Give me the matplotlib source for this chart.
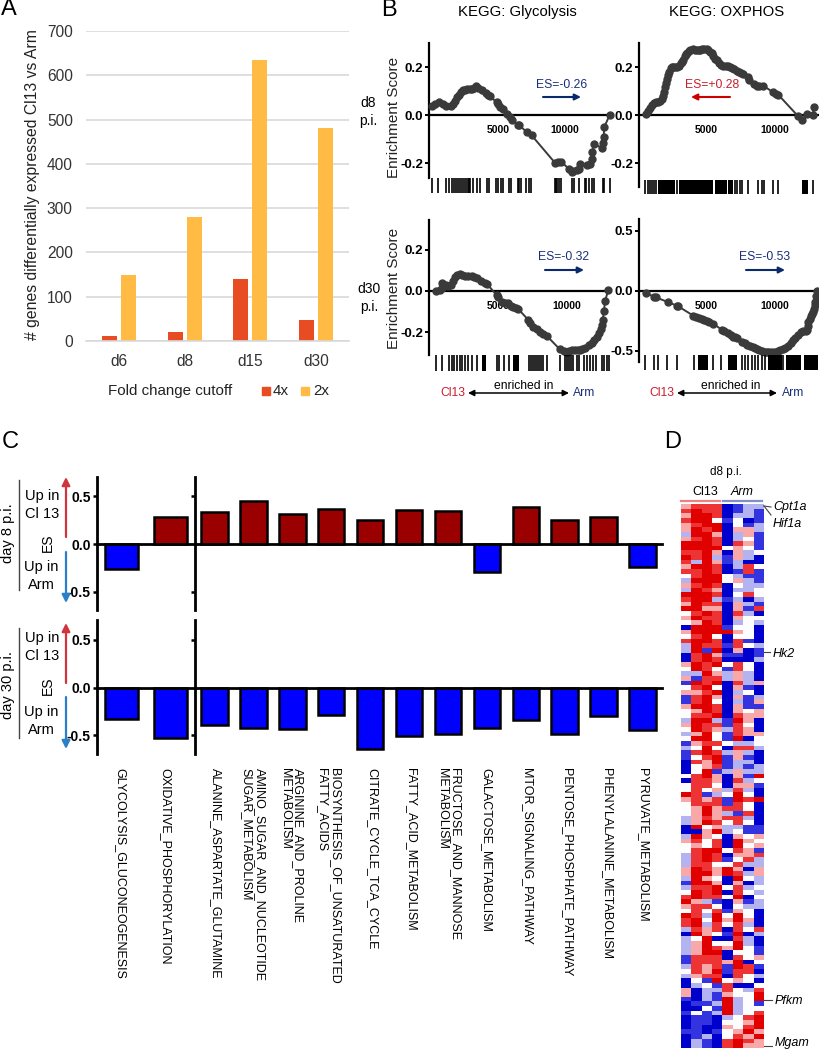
import numpy as np
import matplotlib
matplotlib.use('Agg')
import matplotlib.pyplot as plt
from matplotlib.colors import LinearSegmentedColormap

plt.rcParams['font.family'] = ['Liberation Sans', 'DejaVu Sans']

# panel A
days = ['d6', 'd8', 'd15', 'd30']
genes_4x = [12, 20, 141, 47]
genes_2x = [149, 280, 635, 481]

# panel B, running enrichment score
gly_d8_x = [75, 300, 575, 850, 1125, 1500, 1650, 1800, 1925, 2050, 2200, 2375, 2550, 2700, 2875, 3050, 3200, 3325, 3500, 3750,
            4100, 4250, 4400, 4875, 5000, 5150, 5375, 5650, 5875, 6000, 6450, 6575, 7125, 7500, 9250, 9450, 9675, 10300, 10500, 10600,
            10900, 11050, 11125, 11600, 11875, 12000, 12025, 12125, 12750, 12800, 12875, 12925, 13325]
gly_d8_y = [.039, .047, .053, .045, .039, .039, .045, .06, .075, .085, .095, .103, .105, .107, .108, .11, .114, .119, .113, .106,
            .09, .083, .078, .053, .045, .035, .026, .005, -.008, -.02, -.042, -.043, -.071, -.085, -.2, -.197, -.194, -.225, -.239, -.232,
            -.228, -.224, -.203, -.21, -.203, -.185, -.154, -.122, -.136, -.115, -.092, -.05, 0]
ox_d8_x = [490, 650, 810, 950, 1100, 1250, 1400, 1550, 1700, 1800, 1880, 1950, 2020, 2090, 2160, 2240, 2350, 2450, 2535, 2650,
           2800, 2980, 3100, 3200, 3275, 3400, 3500, 3570, 3700, 3800, 3965, 4100, 4250, 4400, 4510, 4650, 4800, 5000, 5120, 5250,
           5370, 5480, 5600, 5740, 5900, 6050, 6230, 6400, 6550, 6725, 6850, 7000, 7220, 7400, 7550, 7710, 8060, 8100, 8500, 8695,
           8900, 9185, 9925, 10100, 10295, 11770, 12020, 12390, 12830, 12930]
ox_d8_y = [.006, .017, .028, .04, .05, .055, .055, .06, .068, .08, .095, .115, .135, .15, .168, .18, .195, .2, .2, .198,
           .2, .205, .215, .222, .23, .245, .255, .26, .268, .27, .274, .27, .27, .27, .271, .275, .275, .274, .27, .264,
           .258, .245, .235, .228, .215, .21, .206, .205, .205, .202, .195, .19, .184, .178, .173, .17, .16, .145, .128, .122,
           .122, .122, .094, .088, .084, -.006, -.022, .006, .001, .032]
gly_d30_x = [440, 700, 850, 850, 1150, 1340, 1510, 1680, 1830, 2000, 2195, 2380, 2560, 2800, 3050, 3250, 3415, 3700, 4025, 4150,
             4880, 5000, 5245, 5500, 5730, 5950, 6100, 6300, 6460, 7195, 7350, 7560, 7800, 8050, 8300, 8535, 9510, 9800, 10000, 10200,
             10365, 10600, 10800, 10975, 11150, 11340, 11600, 11830, 12000, 12195, 12350, 12490, 12560, 12635, 12730, 12805, 13050]
gly_d30_y = [0, .004, .013, .039, .03, .023, .029, .05, .07, .078, .083, .078, .072, .072, .075, .07, .062, .05, .039, .036,
             -.02, -.03, -.052, -.058, -.06, -.072, -.08, -.085, -.088, -.141, -.157, -.174, -.186, -.198, -.208, -.218, -.285, -.292, -.296, -.294,
             -.289, -.287, -.287, -.289, -.285, -.276, -.262, -.255, -.24, -.223, -.205, -.185, -.165, -.141, -.098, -.049, .005]
ox_d30_x = [490, 1100, 1250, 2170, 2785, 2900, 4015, 4200, 4400, 4630, 4800, 5000, 5200, 5490, 6130, 6300, 6600, 6800, 6970, 7100,
            7250, 7600, 7830, 8000, 8200, 8400, 8550, 8695, 8900, 9100, 9300, 9435, 9600, 9800, 10050, 10250, 10450, 10650, 10790, 11000,
            11200, 11400, 11550, 11750, 11945, 12100, 12300, 12390, 12450, 12510, 12600, 12700, 12800, 12880, 12930, 12980, 13030, 13080, 13130]
ox_d30_y = [-.017, -.047, -.053, -.094, -.122, -.128, -.206, -.215, -.225, -.233, -.24, -.247, -.255, -.272, -.325, -.333, -.35, -.363, -.38, -.385,
            -.392, -.424, -.436, -.447, -.455, -.465, -.473, -.483, -.491, -.498, -.505, -.508, -.512, -.51, -.506, -.5, -.495, -.484, -.472, -.458,
            -.435, -.408, -.39, -.365, -.339, -.33, -.33, -.325, -.29, -.256, -.232, -.21, -.195, -.178, -.15, -.12, -.089, -.045, 0]

# hit positions, single ticks and stretches too dense to separate
gly_d8_hits = [75, 525, 1125, 1325, 1525, 1675, 1825, 1975, 2125, 2275, 2425, 2575, 2725, 2825, 2925, 3125, 3375, 3625, 4125, 4275,
               4825, 4975, 5175, 5325, 5775, 5925, 6475, 6575, 6725, 7075, 7275, 7475, 9225, 9325, 9425, 9575, 9675, 10525, 10625, 11025,
               11475, 11575, 11775, 11975, 12125, 12825, 12925, 13325]
ox_d8_hits = [445, 640, 815, 935, 1110, 1255, 2785, 7095, 7265, 7465, 7610, 8080, 8820, 9065, 9235, 9925, 10295, 12880]
ox_d8_dense = [(1430, 2660), (2955, 5445), (5615, 6480), (6600, 6970), (12020, 12510)]
gly_d30_hits = [440, 855, 1415, 1585, 1755, 2000, 2195, 2340, 2585, 2780, 3050, 3415, 4925, 5075, 5415, 5755, 7270, 7415, 7560, 7705,
                7855, 8000, 8145, 8295, 8585, 9510, 9900, 10050, 10195, 10340, 10490, 10730, 10925, 11270, 11465, 11705, 11950, 12145, 12585, 12730,
                12975, 13070]
gly_d30_dense = [(3805, 4100), (6050, 6535)]
ox_d30_hits = [445, 1110, 1380, 2095, 2830, 4090, 5490, 6035, 7585, 7830, 8080, 8325, 8570, 8820, 9065, 9310, 10665]
ox_d30_dense = [(4385, 5125), (6600, 7265), (9555, 10540), (10860, 11945), (12215, 13250)]

# panel C
path_group1 = ['GLYCOLYSIS_GLUCONEOGENESIS', 'OXIDATIVE_PHOSPHORYLATION']
path_group2 = ['ALANINE_ASPARTATE_GLUTAMINE', 'AMINO_SUGAR_AND_NUCLEOTIDE\nSUGAR_METABOLISM', 'ARGININE_AND_PROLINE\nMETABOLISM',
               'BIOSYNTHESIS_OF_UNSATURATED\nFATTY_ACIDS', 'CITRATE_CYCLE_TCA_CYCLE', 'FATTY_ACID_METABOLISM',
               'FRUCTOSE_AND_MANNOSE\nMETABOLISM', 'GALACTOSE_METABOLISM', 'MTOR_SIGNALING_PATHWAY',
               'PENTOSE_PHOSPHATE_PATHWAY', 'PHENYLALANINE_METABOLISM', 'PYRUVATE_METABOLISM']
es_d8_group1 = [-0.26, 0.28]
es_d8_group2 = [0.34, 0.456, 0.32, 0.365, 0.25, 0.357, 0.346, -0.294, 0.39, 0.25, 0.287, -0.24]
es_d30_group1 = [-0.33, -0.53]
es_d30_group2 = [-0.39, -0.42, -0.44, -0.29, -0.643, -0.51, -0.49, -0.427, -0.343, -0.486, -0.30, -0.448]

# panel D, one string per gene, 0 deep blue, 3 white, 6 deep red
heat_rows = [
    '45550122', '56550121', '46650221', '56631301', '45660312', '46560442', '26640241', '45650231',
    '66650541', '66663431', '55640423', '65621420', '52641200', '46650253', '55650151', '35663211',
    '26663421', '45650322', '26540223', '66650353', '56621202', '46550421', '66440415', '35650520',
    '46550433', '34650232', '06661330', '46666430', '35630330', '56650510', '26551532', '26160401',
    '05641101', '05650002', '46563530', '36531530', '22642420', '41552420', '16560524', '35630410',
    '44560230', '15640412', '15630214', '46650411', '34650434', '35560544', '26621640', '46551530',
    '36542540', '24631544', '36631603', '14553223', '23630552', '15652420', '13561410', '05461220',
    '03451212', '03612422', '35640416', '05540523', '35530441', '35342520', '65123630', '45451656',
    '35551530', '34645530', '34642150', '24545520', '24653530', '06342211', '00462311', '26430434',
    '45350643', '34350634', '35663541', '25650445', '25651352', '25533522', '46546404', '46646524',
    '26430632', '16640402', '25563523', '36560532', '56553603', '64210412', '45530322', '35351430',
    '65263630', '56364640', '56253520', '25450535', '06431602', '23600520', '24633620', '24654631',
    '24660331', '15550534', '15554603', '25451651', '35461550', '24550532', '03163430', '02315003',
    '40225325', '40214336', '10216236', '01126231', '00316233', '13126235', '01102356', '01103346',
    '01004356', '11013464', '01203546', '02105654', '02105644']

genes_marked = ['Cpt1a', 'Hif1a', 'Hk2', 'Pfkm', 'Mgam']

W, H = 820, 1050
fig = plt.figure(figsize=(W / 100, H / 100), dpi=100)


def axes_px(left, top, right, bottom):
    return fig.add_axes([left / W, 1 - bottom / H, (right - left) / W, (bottom - top) / H])


# panel A
ax = axes_px(86, 31, 349, 341)
ax.yaxis.grid(True, color='#d9d9d9', lw=1.2)
ax.set_axisbelow(True)
pos = np.arange(len(days))
ax.bar(pos - 0.144, genes_4x, 0.227, color='#e84c22')
ax.bar(pos + 0.144, genes_2x, 0.227, color='#ffbb44')
ax.set_xlim(-0.5, 3.5)
ax.set_ylim(0, 700)
ax.set_xticks(pos)
ax.set_xticklabels(days)
ax.set_yticks(range(0, 701, 100))
ax.tick_params(length=0, labelsize=11.2, labelcolor='#333333')
ax.tick_params(axis='x', pad=9)
ax.tick_params(axis='y', pad=9.5)
for s in ['top', 'left', 'right']:
    ax.spines[s].set_visible(False)
ax.spines['bottom'].set_color('#d9d9d9')
ax.spines['bottom'].set_linewidth(1.2)


# panel B
def enrichment(box, rug_box, xlim, ylim, yticks, xs, ys, hits, dense=()):
    a = axes_px(*box)
    a.plot(xs, ys, '-o', color='#3a3a3a', lw=1.4, ms=5, clip_on=False, zorder=3)
    a.set_xlim(*xlim)
    a.set_ylim(*ylim)
    a.set_xticks([5000, 10000])
    a.set_yticks(yticks)
    a.set_yticklabels(['%.1f' % t for t in yticks])
    a.patch.set_alpha(0)
    for s in ['top', 'right']:
        a.spines[s].set_visible(False)
    a.spines['bottom'].set_position(('data', 0))
    a.spines['left'].set_linewidth(1.6)
    a.spines['bottom'].set_linewidth(1.6)
    a.tick_params(axis='y', length=3, width=1.4, pad=1, labelsize=9.5)
    a.tick_params(axis='x', length=0, pad=7, labelsize=7.5)
    for t in a.get_xticklabels() + a.get_yticklabels():
        t.set_fontweight('bold')
    r = axes_px(*rug_box)
    r.vlines(hits, 0, 1, color='black', lw=1.2)
    for lo, hi in dense:
        r.axvspan(lo, hi, color='black', lw=0)
    r.set_xlim(*xlim)
    r.set_ylim(0, 1)
    r.axis('off')


enrichment((429, 43, 612, 178), (429, 178, 612, 193), (-175, 13500), (-0.2625, 0.30), [-0.2, 0.0, 0.2],
           gly_d8_x, gly_d8_y, gly_d8_hits)
enrichment((639, 43, 820, 187), (639, 180, 820, 194), (0, 13370), (-0.30, 0.30), [-0.2, 0.0, 0.2],
           ox_d8_x, ox_d8_y, ox_d8_hits, ox_d8_dense)
enrichment((429, 220, 610, 355), (429, 355, 610, 371), (-70, 13170), (-0.312, 0.346), [-0.2, 0.0, 0.2],
           gly_d30_x, gly_d30_y, gly_d30_hits, gly_d30_dense)
enrichment((639, 219, 820, 362), (639, 355, 820, 370), (0, 13370), (-0.592, 0.60), [-0.5, 0.0, 0.5],
           ox_d30_x, ox_d30_y, ox_d30_hits, ox_d30_dense)


# panel C
def es_row(top, bottom, vals1, vals2):
    left = axes_px(97, top, 195, bottom)
    right = axes_px(195, top, 662, bottom)
    ylim = (-(bottom - (top + bottom) / 2 - 0.5) / 95.3, (bottom - (top + bottom) / 2 + 0.5) / 95.3)
    for a, vals, width in [(left, vals1, 0.67), (right, vals2, 0.68)]:
        p = np.arange(len(vals)) + 0.5
        cols = ['#9a0000' if v > 0 else '#0000ff' for v in vals]
        a.bar(p, vals, width, color=cols, edgecolor='black', lw=1.8, zorder=3)
        a.set_xlim(0, len(vals))
        a.set_ylim(*ylim)
        a.set_xticks([])
        a.set_yticks([-0.5, 0.5] if a is right else [-0.5, 0.0, 0.5])
        a.patch.set_alpha(0)
        for s in ['top', 'right']:
            a.spines[s].set_visible(False)
        a.spines['bottom'].set_position(('data', 0))
        a.spines['left'].set_linewidth(2)
        a.spines['bottom'].set_linewidth(2)
        a.spines['bottom'].set_zorder(4)
        a.tick_params(axis='y', length=3, width=1.8, pad=1.5, labelsize=10)
    left.set_yticklabels(['-0.5', '0.0', '0.5'], fontweight='bold')
    right.set_yticklabels([])


es_row(477, 610, es_d8_group1, es_d8_group2)
es_row(620, 754, es_d30_group1, es_d30_group2)

# panel D
heat = np.array([[int(c) for c in row] for row in heat_rows])
cmap = LinearSegmentedColormap.from_list('bwr_heat', ['#0000cc', '#3434e0', '#b4b4f2', '#ffffff',
                                                      '#f8a8a8', '#ee3434', '#e00000'])
axd = axes_px(681, 504, 764, 1048)
axd.imshow(heat, cmap=cmap, vmin=0, vmax=6, aspect='auto', interpolation='nearest')
axd.axis('off')

# text, arrows and rules, positioned in figure pixels
ov = fig.add_axes([0, 0, 1, 1], zorder=10)
ov.set_xlim(0, W)
ov.set_ylim(H, 0)
ov.axis('off')


def label(x, y, s, size=10, **kw):
    kw.setdefault('ha', 'center')
    kw.setdefault('va', 'center')
    ov.text(x, y, s, fontsize=size, **kw)


def arrow(x0, y0, x1, y1, color, lw=1.5, style='-|>', scale=9):
    ov.annotate('', xy=(x1, y1), xytext=(x0, y0),
                arrowprops=dict(arrowstyle=style, color=color, lw=lw, mutation_scale=scale,
                                shrinkA=0, shrinkB=0))


for x, y, s in [(9, 9, 'A'), (389, 10, 'B'), (10, 442, 'C'), (673, 442, 'D')]:
    label(x, y, s, size=17)

# panel A texts
label(33, 185, '# genes differentially expressed Cl13 vs Arm', size=11.3, rotation=90, color='#222222')
label(170, 391, 'Fold change cutoff', size=10.9, color='#222222')
ov.plot([266], [391], 's', color='#e84c22', ms=5.5)
label(273, 391, '4x', size=10.9, ha='left', color='#222222')
ov.plot([305], [391], 's', color='#ffbb44', ms=5.5)
label(313, 391, '2x', size=10.9, ha='left', color='#222222')

# panel B texts
navy = '#1a2f7a'
red = '#c8202c'
label(517, 12, 'KEGG: Glycolysis', size=10.7)
label(727, 12, 'KEGG: OXPHOS', size=10.7)
label(368, 112, 'd8\np.i.', size=10, linespacing=1.35)
label(369, 298, 'd30\np.i.', size=10, linespacing=1.35)
label(394, 117, 'Enrichment Score', size=11, rotation=90, color='#222222')
label(394, 288, 'Enrichment Score', size=11, rotation=90, color='#222222')
label(562, 85, 'ES=-0.26', size=8.7, color=navy)
arrow(543, 97, 581, 97, '#0b2a6b')
label(712, 85, 'ES=+0.28', size=8.7, color=red)
arrow(730, 97, 691, 97, '#cc0000')
label(564, 257, 'ES=-0.32', size=8.7, color=navy)
arrow(545, 270, 584, 270, '#0b2a6b')
label(765, 257, 'ES=-0.53', size=8.7, color=navy)
arrow(746, 270, 785, 270, '#0b2a6b')
for cl_x, a0, a1, en_x, arm_x in [(453, 468, 569, 524, 584), (662, 677, 777, 731, 793)]:
    label(cl_x, 393, 'Cl13', size=8.7, color=red)
    arrow(a0, 393, a1, 393, 'black', lw=1.1, style='<|-|>', scale=9)
    label(en_x, 386, 'enriched in', size=8.7)
    label(arm_x, 393, 'Arm', size=8.7, color=navy)

# panel C side annotations
for day, line_top, line_bot, cl_y, es_y, arm_y, day_y, red_y0, red_y1, blue_y0, blue_y1 in [
        ('day 8 p.i.', 480, 590, 505, 543, 576, 533, 537, 477, 552, 603),
        ('day 30 p.i.', 628, 738, 647, 686, 721, 685, 683, 623, 697, 749)]:
    ov.plot([19, 19], [line_top, line_bot], color='#444444', lw=1)
    label(8, day_y, day, size=10.5, rotation=90)
    label(42, cl_y, 'Up in\nCl 13', size=10.5, linespacing=1.3)
    label(41, arm_y, 'Up in\nArm', size=10.5, linespacing=1.3)
    label(48, es_y, 'ES', size=10, rotation=90)
    arrow(66, red_y0, 66, red_y1, '#d0343c', lw=1.6, scale=12)
    arrow(66, blue_y0, 66, blue_y1, '#2a7fc8', lw=1.6, scale=12)

# panel C pathway labels
path_x = [120, 165, 216, 253, 291, 328, 372, 411, 448, 486, 527, 567, 607, 643]
for x, s in zip(path_x, path_group1 + path_group2):
    label(x, 768, s, size=9, rotation=270, va='top', multialignment='left', linespacing=1.1)

# panel D texts
label(726, 472, 'd8 p.i.', size=8.5)
label(705, 492, 'Cl13', size=9)
label(742, 492, 'Arm', size=9, style='italic')
ov.plot([681, 720], [501, 501], color='#f08080', lw=1.6)
ov.plot([723, 762], [501, 501], color='#8090c8', lw=1.6)
gene_x = [773, 773, 773, 775, 775]
gene_y = [507, 524, 654, 1001, 1043]
for x, y, s in zip(gene_x, gene_y, genes_marked):
    label(x, y, s, size=9, ha='left', style='italic')
for x0, y0, x1, y1 in [(764, 506, 771, 507), (764, 506, 771, 515), (764, 652, 770, 652),
                       (764, 1000, 772, 1000), (764, 1046, 772, 1046)]:
    ov.plot([x0, x1], [y0, y1], color='#444444', lw=0.8)

fig.savefig('out.png', dpi=100)
